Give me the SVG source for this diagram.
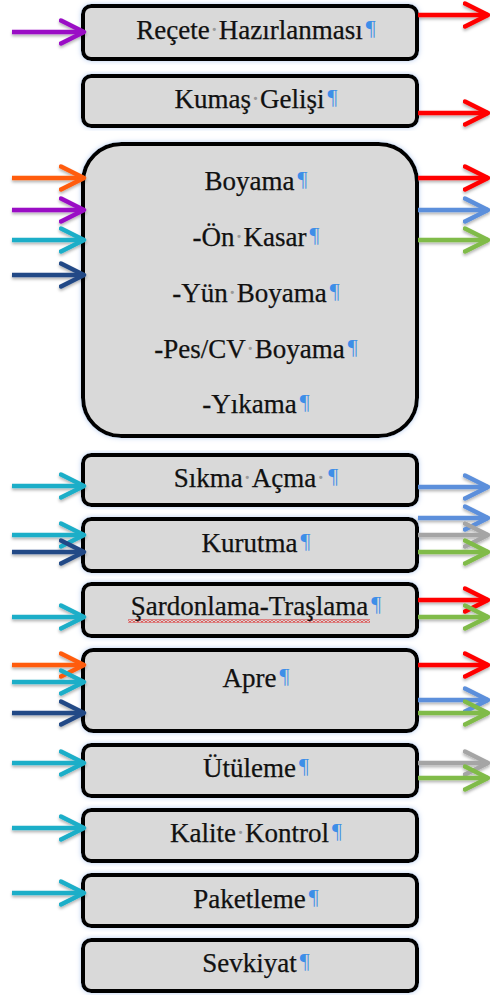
<svg xmlns="http://www.w3.org/2000/svg" width="490" height="995" viewBox="0 0 490 995">
<style>
.box{fill:#d9d9d9;stroke:#000;stroke-width:4;filter:url(#glow)}
.t{font-family:"Liberation Serif","Times New Roman",serif;font-size:27px;fill:#111;text-anchor:middle;stroke:#111;stroke-width:0.25}
.d{fill:#9a9a9a;stroke:none}
.p{font-size:22px;fill:#3d8ee8;stroke:none}
.a{fill:none;stroke-width:4.5}
.red{stroke:#ff0000;marker-end:url(#m-red)}
.org{stroke:#ff5b0f;marker-end:url(#m-org)}
.pur{stroke:#9a0fc5;marker-end:url(#m-pur)}
.cya{stroke:#1eaec8;marker-end:url(#m-cya)}
.nav{stroke:#214a86;marker-end:url(#m-nav)}
.blu{stroke:#5b8fdb;marker-end:url(#m-blu)}
.grn{stroke:#80bb48;marker-end:url(#m-grn)}
.gry{stroke:#a5a5a5;marker-end:url(#m-gry)}
</style>
<defs>
<filter id="glow" x="-5%" y="-10%" width="110%" height="120%">
<feGaussianBlur in="SourceAlpha" stdDeviation="2.5" result="b"/>
<feFlood flood-color="#b9cff0"/>
<feComposite in2="b" operator="in"/>
<feMerge><feMergeNode/><feMergeNode in="SourceGraphic"/></feMerge>
</filter>
<filter id="sh" x="-5%" y="-5%" width="110%" height="110%">
<feDropShadow dx="0" dy="2" stdDeviation="1.5" flood-color="#000" flood-opacity="0.3"/>
</filter>
<pattern id="wavy" width="4" height="3" patternUnits="userSpaceOnUse">
<path d="M0,2.3 L2,0.7 L4,2.3" fill="none" stroke="#e01010" stroke-width="1.1"/>
</pattern>
<marker id="m-red" markerUnits="userSpaceOnUse" viewBox="0 0 28 28" markerWidth="28" markerHeight="28" refX="25" refY="14" orient="auto"><path d="M2,2.5 L25,14 L2,25.5" fill="none" stroke="#ff0000" stroke-width="4.5" stroke-linecap="round" stroke-linejoin="round"/></marker>
<marker id="m-org" markerUnits="userSpaceOnUse" viewBox="0 0 28 28" markerWidth="28" markerHeight="28" refX="25" refY="14" orient="auto"><path d="M2,2.5 L25,14 L2,25.5" fill="none" stroke="#ff5b0f" stroke-width="4.5" stroke-linecap="round" stroke-linejoin="round"/></marker>
<marker id="m-pur" markerUnits="userSpaceOnUse" viewBox="0 0 28 28" markerWidth="28" markerHeight="28" refX="25" refY="14" orient="auto"><path d="M2,2.5 L25,14 L2,25.5" fill="none" stroke="#9a0fc5" stroke-width="4.5" stroke-linecap="round" stroke-linejoin="round"/></marker>
<marker id="m-cya" markerUnits="userSpaceOnUse" viewBox="0 0 28 28" markerWidth="28" markerHeight="28" refX="25" refY="14" orient="auto"><path d="M2,2.5 L25,14 L2,25.5" fill="none" stroke="#1eaec8" stroke-width="4.5" stroke-linecap="round" stroke-linejoin="round"/></marker>
<marker id="m-nav" markerUnits="userSpaceOnUse" viewBox="0 0 28 28" markerWidth="28" markerHeight="28" refX="25" refY="14" orient="auto"><path d="M2,2.5 L25,14 L2,25.5" fill="none" stroke="#214a86" stroke-width="4.5" stroke-linecap="round" stroke-linejoin="round"/></marker>
<marker id="m-blu" markerUnits="userSpaceOnUse" viewBox="0 0 28 28" markerWidth="28" markerHeight="28" refX="25" refY="14" orient="auto"><path d="M2,2.5 L25,14 L2,25.5" fill="none" stroke="#5b8fdb" stroke-width="4.5" stroke-linecap="round" stroke-linejoin="round"/></marker>
<marker id="m-grn" markerUnits="userSpaceOnUse" viewBox="0 0 28 28" markerWidth="28" markerHeight="28" refX="25" refY="14" orient="auto"><path d="M2,2.5 L25,14 L2,25.5" fill="none" stroke="#80bb48" stroke-width="4.5" stroke-linecap="round" stroke-linejoin="round"/></marker>
<marker id="m-gry" markerUnits="userSpaceOnUse" viewBox="0 0 28 28" markerWidth="28" markerHeight="28" refX="25" refY="14" orient="auto"><path d="M2,2.5 L25,14 L2,25.5" fill="none" stroke="#a5a5a5" stroke-width="4.5" stroke-linecap="round" stroke-linejoin="round"/></marker>
</defs>
<rect width="490" height="995" fill="#fff"/>

<g id="recete"><rect class="box" x="83" y="6" width="334" height="53" rx="8"/><text class="t" x="256" y="39">Reçete<tspan class="d">·</tspan>Hazırlanması<tspan class="p" dx="3" dy="-4">¶</tspan></text></g>
<g id="kumas"><rect class="box" x="83" y="76" width="334" height="50" rx="8"/><text class="t" x="256" y="108">Kumaş<tspan class="d">·</tspan>Gelişi<tspan class="p" dx="3" dy="-4">¶</tspan></text></g>
<g id="boyama"><rect class="box" x="83" y="144" width="334" height="292" rx="38"/>
<text class="t" x="256" y="190">Boyama<tspan class="p" dx="3" dy="-4">¶</tspan></text>
<text class="t" x="256" y="246">-Ön<tspan class="d">·</tspan>Kasar<tspan class="p" dx="3" dy="-4">¶</tspan></text>
<text class="t" x="256" y="302">-Yün<tspan class="d">·</tspan>Boyama<tspan class="p" dx="3" dy="-4">¶</tspan></text>
<text class="t" x="256" y="358">-Pes/CV<tspan class="d">·</tspan>Boyama<tspan class="p" dx="3" dy="-4">¶</tspan></text>
<text class="t" x="256" y="413">-Yıkama<tspan class="p" dx="3" dy="-4">¶</tspan></text></g>
<g id="sikma"><rect class="box" x="83" y="455" width="334" height="50" rx="8"/><text class="t" x="256" y="487">Sıkma<tspan class="d">·</tspan>Açma<tspan class="d">·</tspan><tspan class="p" dx="3" dy="-4">¶</tspan></text></g>
<g id="kurutma"><rect class="box" x="83" y="519" width="334" height="52" rx="8"/><text class="t" x="256" y="552">Kurutma<tspan class="p" dx="3" dy="-4">¶</tspan></text></g>
<g id="sardonlama"><rect class="box" x="83" y="584" width="334" height="52" rx="8"/><rect x="128" y="619.5" width="242" height="3" fill="url(#wavy)"/><text class="t" x="256" y="615">Şardonlama-Traşlama<tspan class="p" dx="3" dy="-4">¶</tspan></text></g>
<g id="apre"><rect class="box" x="83" y="650" width="334" height="81" rx="10"/><text class="t" x="256" y="687">Apre<tspan class="p" dx="3" dy="-4">¶</tspan></text></g>
<g id="utuleme"><rect class="box" x="83" y="745" width="334" height="51" rx="8"/><text class="t" x="256" y="777">Ütüleme<tspan class="p" dx="3" dy="-4">¶</tspan></text></g>
<g id="kalite"><rect class="box" x="83" y="810" width="334" height="51" rx="8"/><text class="t" x="256" y="842">Kalite<tspan class="d">·</tspan>Kontrol<tspan class="p" dx="3" dy="-4">¶</tspan></text></g>
<g id="paketleme"><rect class="box" x="83" y="875" width="334" height="51" rx="8"/><text class="t" x="256" y="908">Paketleme<tspan class="p" dx="3" dy="-4">¶</tspan></text></g>
<g id="sevkiyat"><rect class="box" x="83" y="940" width="334" height="51" rx="8"/><text class="t" x="256" y="972">Sevkiyat<tspan class="p" dx="3" dy="-4">¶</tspan></text></g>

<g id="connectors" filter="url(#sh)">
<path class="a pur" d="M12,32 H84"/>
<path class="a red" d="M418,15 H488"/>
<path class="a red" d="M418,113 H488"/>
<path class="a org" d="M12,178 H84"/>
<path class="a pur" d="M12,210 H84"/>
<path class="a cya" d="M12,240 H84"/>
<path class="a nav" d="M12,275 H84"/>
<path class="a red" d="M418,178 H488"/>
<path class="a blu" d="M418,210 H488"/>
<path class="a grn" d="M418,240 H488"/>
<path class="a cya" d="M12,486 H84"/>
<path class="a blu" d="M418,487 H488"/>
<path class="a cya" d="M12,535 H84"/>
<path class="a nav" d="M12,552 H84"/>
<path class="a blu" d="M418,518 H488"/>
<path class="a gry" d="M418,535 H488"/>
<path class="a grn" d="M418,552 H488"/>
<path class="a cya" d="M12,617 H84"/>
<path class="a red" d="M418,600 H488"/>
<path class="a grn" d="M418,617 H488"/>
<path class="a org" d="M12,665 H84"/>
<path class="a cya" d="M12,682 H84"/>
<path class="a nav" d="M12,713 H84"/>
<path class="a red" d="M418,665 H488"/>
<path class="a blu" d="M418,700 H488"/>
<path class="a grn" d="M418,713 H488"/>
<path class="a cya" d="M12,763 H84"/>
<path class="a gry" d="M418,763 H488"/>
<path class="a grn" d="M418,778 H488"/>
<path class="a cya" d="M12,828 H84"/>
<path class="a cya" d="M12,893 H84"/>
</g>
</svg>
